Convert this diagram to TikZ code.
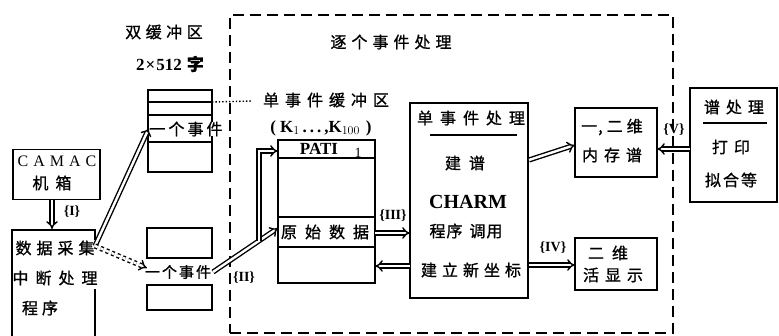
\documentclass[tikz,border=0pt]{standalone}
\usepackage{fontspec}
\setmainfont{Liberation Serif}
\newfontfamily\cjk{Noto Sans CJK SC}[FakeBold=1]
\usetikzlibrary{arrows.meta}
\makeatletter
\newcommand\spcd[2]{\def\spcd@sep{}\@tfor\spcd@c:=#2\do{\spcd@sep\spcd@c\def\spcd@sep{\hspace{#1}}}}
\makeatother
\tikzset{
  box/.style={draw, line width=1.8pt},
  zh/.style={font=\cjk\fontsize{16}{18}\selectfont, inner sep=0pt},
  lat/.style={font=\fontsize{17}{19}\selectfont\bfseries, inner sep=0pt},
  lbl/.style={font=\fontsize{14}{16}\selectfont\bfseries, inner sep=0pt},
  dbl/.style={double, double distance=2.4pt, line width=1.4pt, -{Implies}},
}
\begin{document}
\begin{tikzpicture}[x=1pt,y=-1pt]
\useasboundingbox (0,0) rectangle (779,336);
\fill[white] (0,0) rectangle (779,336);

% double buffer label
\node[zh] (dbt) at (164,32) {\spcd{4.5pt}{双缓冲区}};
\node[lat] (dbs) at (170,64) {2\hspace{1pt}×\hspace{1pt}512\hspace{5pt}{\cjk\fontsize{17}{19}\selectfont 字}};

% upper buffer
\node[box, minimum width=64pt, minimum height=82pt, inner sep=0pt] (ubuf) at (180,131) {};
\coordinate (u1l) at (148,102); \coordinate (u1r) at (212,102);
\coordinate (u2l) at (148,115); \coordinate (u2r) at (212,115);
\coordinate (u3l) at (148,142); \coordinate (u3r) at (212,142);
\draw[line width=1.8pt] (u1l) -- (u1r);
\draw[line width=1.8pt] (u2l) -- (u2r);
\draw[line width=1.8pt] (u3l) -- (u3r);
\node[zh, fill=white] (uev) at (186,129) {\spcd{3pt}{一个事件}};

% lower buffer
\node[box, minimum width=65pt, minimum height=30pt, inner sep=0pt] (lbt) at (179.5,243) {};
\node[box, minimum width=65pt, minimum height=25pt, inner sep=0pt] (lbb) at (179.5,297.5) {};
\node[zh, font=\cjk\fontsize{15}{17}\selectfont] (lev) at (178,272) {\spcd{2pt}{一个事件}};

% CAMAC
\node[box, minimum width=87pt, minimum height=50pt, inner sep=0pt] (camac) at (56.5,174.5) {};
\node[font=\fontsize{16}{18}\selectfont, inner sep=0pt] (camt) at (57,161) {\spcd{5pt}{CAMAC}};
\node[zh] (camz) at (52,183) {\spcd{7pt}{机箱}};

% data acquisition box (open bottom, broken right side)
\coordinate (dq1) at (12,336); \coordinate (dq2) at (12,230);
\coordinate (dq3) at (95,230); \coordinate (dq4) at (95,240);
\coordinate (dq5) at (95,289); \coordinate (dq6) at (95,336);
\draw[line width=1.8pt] (dq1) -- (dq2) -- (dq3) -- (dq4);
\draw[line width=1.8pt] (dq5) -- (dq6);
\node[zh] (daq1) at (55,248) {\spcd{5pt}{数据采集}};
\node[zh] (daq2) at (55,278) {\spcd{7pt}{中断处理}};
\node[zh] (daq3) at (40,308) {\spcd{4pt}{程序}};
\coordinate (dqout) at (95,246);

\draw[dbl] (camac.south -| 52,0) -- (52,229);
\node[lbl] (l1) at (72,212) {\{I\}};

\draw[dbl] (dqout) -- (149,128);
\draw[dbl, dashed] (dqout) -- (147,268);

% dotted line from buffer
\coordinate (dotend) at (252,101);
\draw[dotted, line width=1.4pt] (u1r) -- (dotend);

% dashed frame
\node[draw, dashed, dash pattern=on 11pt off 6pt, line width=1.8pt, minimum width=443pt, minimum height=318pt, inner sep=0pt] (frame) at (451.5,174) {};
\node[zh] (frt) at (391,42) {\spcd{5pt}{逐个事件处理}};

% single-event buffer
\node[zh] (sbt) at (326,100) {\spcd{6pt}{单事件缓冲区}};
\node[font=\fontsize{17}{19}\selectfont\bfseries, inner sep=0pt] (sbk) at (321,128) {(\hspace{4pt}K$_1$\hspace{3pt}.\hspace{3pt}.\hspace{3pt}.\hspace{3pt},K$_{100}$\hspace{6pt})};
\node[box, minimum width=97pt, minimum height=143pt, inner sep=0pt] (pati) at (326.5,211.5) {};
\coordinate (p1l) at (278,158); \coordinate (p1r) at (375,158);
\coordinate (p2l) at (278,217); \coordinate (p2r) at (375,217);
\coordinate (p3l) at (278,247); \coordinate (p3r) at (375,247);
\draw[line width=1.8pt] (p1l) -- (p1r);
\draw[line width=1.8pt] (p2l) -- (p2r);
\draw[line width=1.8pt] (p3l) -- (p3r);
\node[lat] (patit) at (319,149) {PATI};
\node[font=\fontsize{14}{16}\selectfont, inner sep=0pt] (pati1) at (358,153) {1};
\node[zh] (raw) at (325,232) {\spcd{8pt}{原始数据}};

% arrow II and branch
\coordinate (IIs) at (213,272);
\coordinate (IIe) at (278,228);
\coordinate (brs) at (259,241);
\coordinate (brc) at (259,151);
\coordinate (bre) at (278,151);
\draw[dbl] (IIs) -- (IIe);
\draw[dbl] (brs) -- (brc) -- (bre);
\node[lbl] (l2) at (244,278) {\{II\}};

% single-event processing
\node[box, minimum width=118pt, minimum height=195pt, inner sep=0pt] (sep) at (469,200.5) {};
\node[zh] (sept) at (471,118) {\spcd{7pt}{单事件处理}};
\coordinate (ul1) at (430,135); \coordinate (ul2) at (517,135);
\draw[line width=1.5pt] (ul1) -- (ul2);
\node[zh] (jp) at (465,163) {\spcd{8pt}{建谱}};
\node[font=\fontsize{20}{22}\selectfont\bfseries, inner sep=0pt] (charm) at (468,202) {CHARM};
\node[zh] (cxdy) at (466,231) {\spcd{1pt}{程序}\hspace{7pt}\spcd{1pt}{调用}};
\node[zh] (jlx) at (471,270) {\spcd{5pt}{建立新坐标}};

% arrows III
\draw[dbl] (375,233) -- (410,233);
\draw[dbl] (410,266) -- (375,266);
\node[lbl] (l3) at (393,216) {\{III\}};

% 1D/2D spectra
\node[box, minimum width=82pt, minimum height=69pt, inner sep=0pt] (mem) at (616,142.5) {};
\node[zh] (memt1) at (612,127) {一\hspace{1pt},\hspace{4pt}二\hspace{4pt}维};
\node[zh] (memt2) at (612,155) {\spcd{6pt}{内存谱}};
\draw[dbl] (529,160) -- (575,145);

% 2D live display
\node[box, minimum width=82pt, minimum height=52pt, inner sep=0pt] (live) at (616,264) {};
\node[zh] (livet1) at (608,253) {\spcd{8pt}{二维}};
\node[zh] (livet2) at (613,275) {\spcd{6pt}{活显示}};
\draw[dbl] (529,265) -- (575,265);
\node[lbl] (l4) at (553,248) {\{IV\}};

% spectrum processing
\node[box, minimum width=87pt, minimum height=114pt, inner sep=0pt] (spec) at (733.5,145) {};
\node[zh] (spect) at (734,107) {\spcd{6pt}{谱处理}};
\coordinate (ul3) at (703,123); \coordinate (ul4) at (767,123);
\draw[line width=1.5pt] (ul3) -- (ul4);
\node[zh] (dy) at (731,147) {\spcd{6pt}{打印}};
\node[zh] (nh) at (731,180) {\spcd{2pt}{拟合等}};
\draw[dbl] (690,149) -- (657,149);
\node[lbl] (l5) at (674,130) {\{V\}};
\end{tikzpicture}
\end{document}
